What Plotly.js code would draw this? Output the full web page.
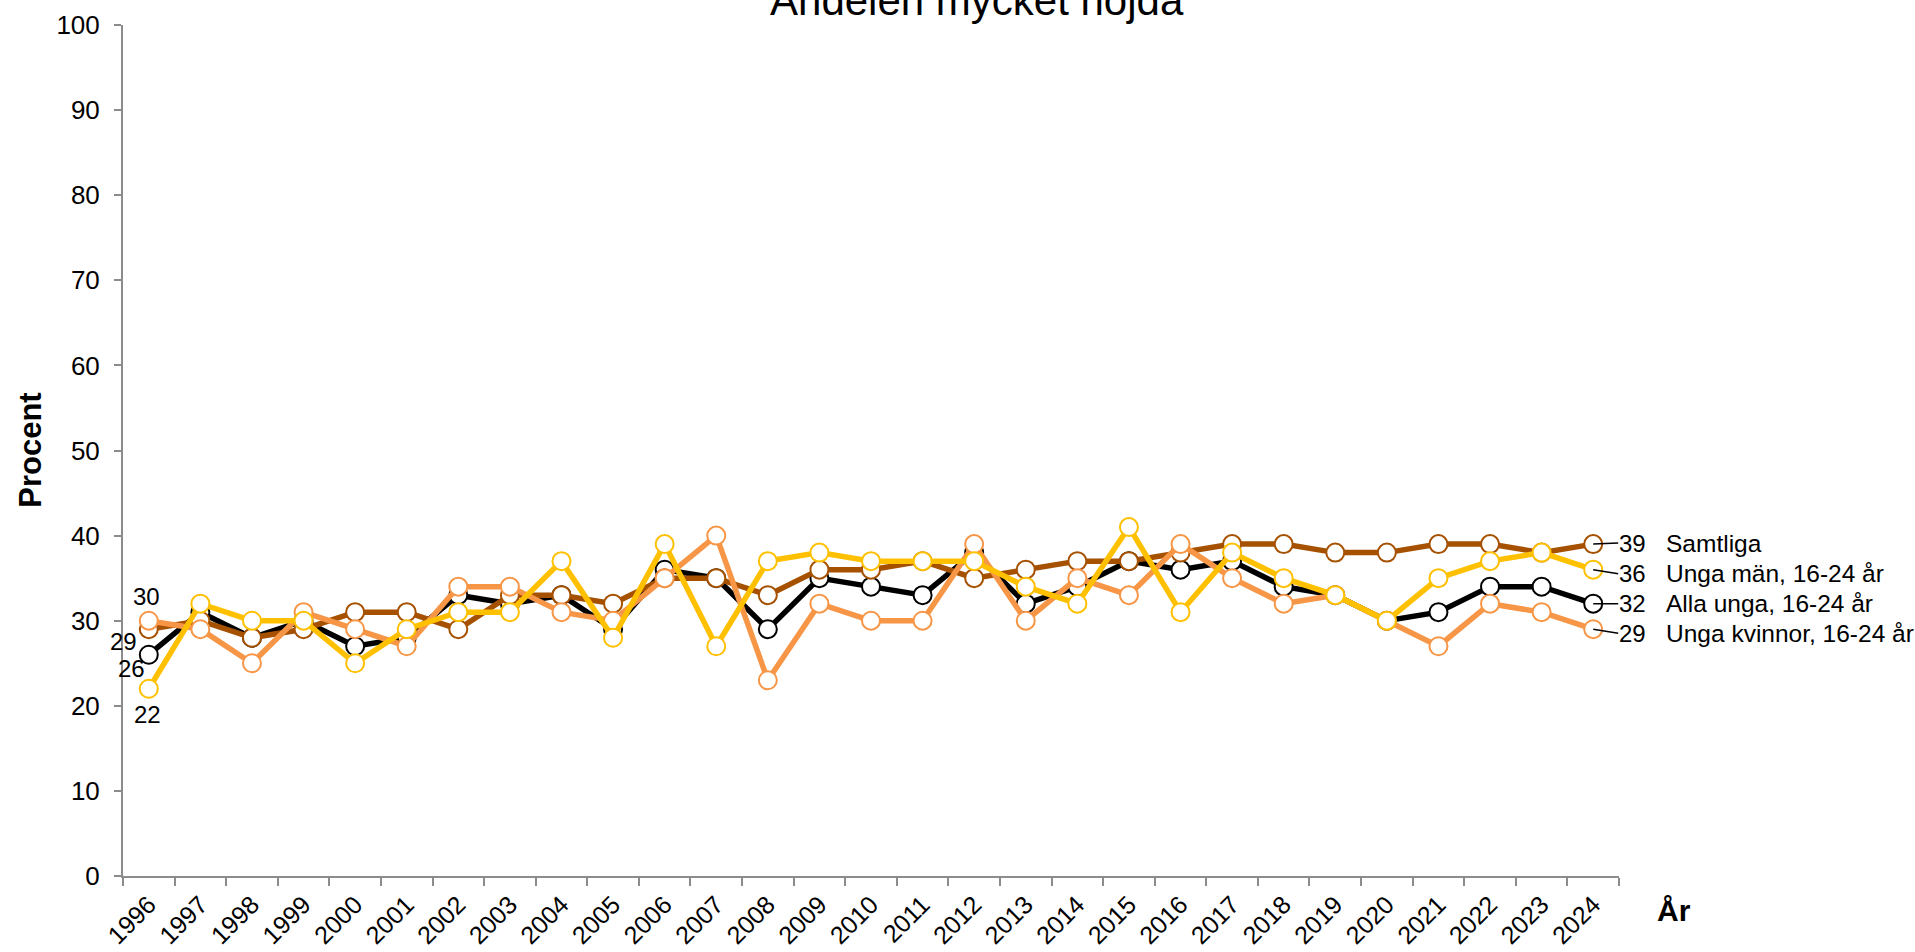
<!DOCTYPE html>
<html>
<head>
<meta charset="utf-8">
<script src="https://cdn.plot.ly/plotly-3.0.1.min.js"></script>
<style>html,body{margin:0;padding:0;background:#fff;}#chart{width:1915px;height:952px;}</style>
</head>
<body>
<div id="chart"></div>
<script>
const years = ['1996','1997','1998','1999','2000','2001','2002','2003','2004','2005','2006','2007','2008','2009','2010','2011','2012','2013','2014','2015','2016','2017','2018','2019','2020','2021','2022','2023','2024'];
const samtliga    = [29,30,28,29,31,31,29,33,33,32,35,35,33,36,36,37,35,36,37,37,38,39,39,38,38,39,39,38,39];
const allaUnga    = [26,31,28,30,27,28,33,32,33,29,36,35,29,35,34,33,38,32,34,37,36,37,34,33,30,31,34,34,32];
const ungaMan     = [22,32,30,30,25,29,31,31,37,28,39,27,37,38,37,37,37,34,32,41,31,38,35,33,30,35,37,38,36];
const ungaKvinnor = [30,29,25,31,29,27,34,34,31,30,35,40,23,32,30,30,39,30,35,33,39,35,32,33,30,27,32,31,29];
const seriesNames = ['Samtliga','Unga män, 16-24 år','Alla unga, 16-24 år','Unga kvinnor, 16-24 år'];
const chartTitle = 'Andelen mycket nöjda';

const FONT = 'Liberation Sans, Arial, sans-serif';
const colors = {samt:'#A65100', alla:'#000000', man:'#FFC000', kv:'#F79646'};

function tr(name, y, color){
  return {
    type:'scatter', mode:'lines+markers', name:name, x:years, y:y,
    line:{color:color, width:5.5},
    marker:{size:18, color:'#ffffff', line:{color:color, width:2}},
    cliponaxis:false,
    hoverinfo:'x+y+name'
  };
}
const data = [
  tr(seriesNames[2], allaUnga, colors.alla),
  tr(seriesNames[0], samtliga, colors.samt),
  tr(seriesNames[3], ungaKvinnor, colors.kv),
  tr(seriesNames[1], ungaMan, colors.man)
];

const last = years.length - 1;   // category index of last year
const ends = [
  {vals:samtliga, name:seriesNames[0], ay:-1},
  {vals:ungaMan, name:seriesNames[1], ay:4},
  {vals:allaUnga, name:seriesNames[2], ay:0},
  {vals:ungaKvinnor, name:seriesNames[3], ay:4}
];
const annotations = [];
ends.forEach(e => {
  const v = e.vals[last];
  annotations.push({
    x: last, y: v, xref:'x', yref:'y',
    text: String(v), showarrow:true, arrowhead:0, arrowwidth:1.5, arrowcolor:'#000',
    ax: 25, ay: e.ay, axref:'pixel', ayref:'pixel', xanchor:'left', yanchor:'middle',
    font:{family:FONT, size:24, color:'#000'}, borderpad:0
  });
  annotations.push({
    x: last, y: v, xref:'x', yref:'y',
    text: e.name, showarrow:false, xanchor:'left', yanchor:'middle',
    xshift: 71, yshift: -e.ay,
    font:{family:FONT, size:24.5, color:'#000'}
  });
});
const starts = [
  {vals:ungaKvinnor, dx:-2, dy:24},
  {vals:samtliga, dx:-25, dy:-12},
  {vals:allaUnga, dx:-17, dy:-14},
  {vals:ungaMan, dx:-1, dy:-26}
];
starts.forEach(s => {
  annotations.push({
    x: 0, y: s.vals[0], xref:'x', yref:'y',
    text: String(s.vals[0]), showarrow:false, xanchor:'center', yanchor:'middle',
    xshift: s.dx, yshift: s.dy,
    font:{family:FONT, size:24, color:'#000'}
  });
});
annotations.push({
  text:'<b>Procent</b>', xref:'paper', yref:'paper', x:-0.062, y:0.5,
  textangle:-90, showarrow:false, xanchor:'center', yanchor:'middle',
  font:{family:FONT, size:31, color:'#000'}
});
annotations.push({
  text:'<b>År</b>', xref:'paper', yref:'paper', x:1.024, y:-0.041,
  showarrow:false, xanchor:'left', yanchor:'middle',
  font:{family:FONT, size:30, color:'#000'}
});

const layout = {
  width:1915, height:952,
  margin:{l:123, r:296, t:25, b:76, pad:0},
  paper_bgcolor:'#ffffff', plot_bgcolor:'#ffffff',
  showlegend:false,
  title:{text:chartTitle, xref:'container', yref:'container', x:0.51, y:1.0, xanchor:'center', yanchor:'middle',
         font:{family:FONT, size:42, color:'#000'}},
  xaxis:{
    type:'category', range:[-0.5, 28.5], showgrid:false, zeroline:false,
    showline:true, linecolor:'#8c8c8c', linewidth:2,
    ticks:'outside', tickson:'boundaries', ticklen:8, tickwidth:2, tickcolor:'#8c8c8c',
    tickangle:-45, ticklabelstandoff:2,
    tickfont:{family:FONT, size:25, color:'#000'}
  },
  yaxis:{
    range:[0,100], dtick:10, showgrid:false, zeroline:false,
    showline:true, linecolor:'#8c8c8c', linewidth:2,
    ticks:'outside', ticklen:7, tickwidth:2, tickcolor:'#8c8c8c',
    ticklabelstandoff:9,
    tickfont:{family:FONT, size:26, color:'#000'}
  },
  annotations:annotations
};
Plotly.newPlot('chart', data, layout, {displayModeBar:false, responsive:false});
</script>
</body>
</html>
